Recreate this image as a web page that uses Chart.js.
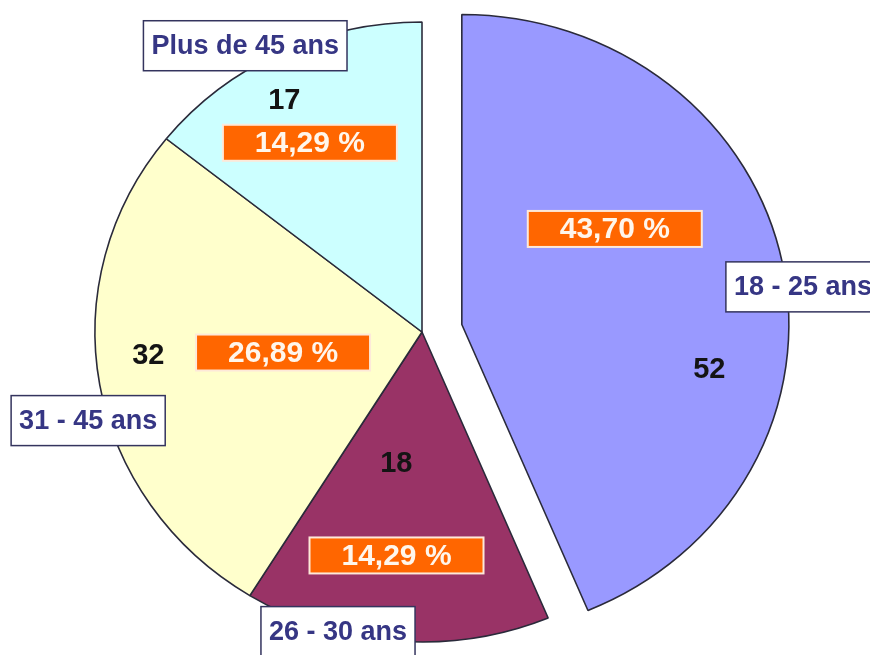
<!DOCTYPE html>
<html>
<head>
<meta charset="utf-8">
<script src="https://cdn.jsdelivr.net/npm/chart.js"></script>
<style>
  body {
    margin: 0;
    background-color: #ffffff;
  }
  #wrap {
    width: 870px;
    height: 655px;
  }
</style>
</head>
<body>
<div id="wrap">
  <canvas id="myChart" width="870" height="655"></canvas>
</div>

<script>
  // data
  const labels = ['18 - 25 ans', '26 - 30 ans', '31 - 45 ans', 'Plus de 45 ans'];
  const counts = [52, 18, 32, 17];
  const percentText = ['43,70 %', '14,29 %', '26,89 %', '14,29 %'];

  const colors = ['#9999ff', '#993366', '#ffffcc', '#ccffff'];

  // look & placement
  const FONT = '"Liberation Sans", Arial, sans-serif';
  const SX = 1.055;              // the pie is a bit wider than tall
  const EXPLODE = [38.5, 0, 0, 0]; // pulled-out first slice
  // [fraction along slice, fraction of radius]
  const valuePos = [[0.64, 0.77], [0.61, 0.43], [0.55, 0.84], [0.43, 0.86]];
  const pctPos = [[0.36, 0.56], [0.53, 0.725], [0.51, 0.43], [0.43, 0.70]];
  const catPos = [[0.53, 1.05], [0.69, 1.0], [0.44, 1.06], [0.41, 1.07]];

  function spot(arc, i, t, rf) {
    const a = arc.startAngle + (arc.endAngle - arc.startAngle) * t;
    const r = arc.outerRadius * rf;
    let x = Math.cos(a) * r;
    let y = Math.sin(a) * r;
    if (EXPLODE[i]) {
      const mid = (arc.startAngle + arc.endAngle) / 2;
      x += Math.cos(mid) * EXPLODE[i];
      y += Math.sin(mid) * EXPLODE[i];
    }
    return { x: arc.x + x * SX, y: arc.y + y };
  }

  const piePlugin = {
    id: 'piePlugin',
    beforeDatasetDraw(chart, args) {
      const ctx = chart.ctx;
      const meta = args.meta;
      const first = meta.data[0];
      ctx.save();
      ctx.translate(first.x, first.y);
      ctx.scale(SX, 1);
      ctx.translate(-first.x, -first.y);
      meta.data.forEach(function (arc, i) {
        ctx.save();
        if (EXPLODE[i]) {
          const mid = (arc.startAngle + arc.endAngle) / 2;
          ctx.translate(Math.cos(mid) * EXPLODE[i], Math.sin(mid) * EXPLODE[i]);
        }
        arc.draw(ctx);
        ctx.restore();
      });
      ctx.restore();
      return false;
    },
    afterDatasetsDraw(chart) {
      const ctx = chart.ctx;
      const meta = chart.getDatasetMeta(0);
      ctx.save();
      ctx.textAlign = 'center';
      ctx.textBaseline = 'middle';
      meta.data.forEach(function (arc, i) {
        // value
        let p = spot(arc, i, valuePos[i][0], valuePos[i][1]);
        ctx.font = 'bold 29px ' + FONT;
        ctx.fillStyle = '#141414';
        ctx.fillText(String(counts[i]), p.x, p.y + 1);

        // percent box
        p = spot(arc, i, pctPos[i][0], pctPos[i][1]);
        const bw = 174, bh = 36;
        ctx.fillStyle = '#ff6600';
        ctx.fillRect(p.x - bw / 2, p.y - bh / 2, bw, bh);
        ctx.strokeStyle = '#fde9d9';
        ctx.lineWidth = 2;
        ctx.strokeRect(p.x - bw / 2, p.y - bh / 2, bw, bh);
        ctx.font = 'bold 30px ' + FONT;
        ctx.fillStyle = '#fff6ec';
        ctx.fillText(percentText[i], p.x, p.y + 1);

        // category box
        p = spot(arc, i, catPos[i][0], catPos[i][1]);
        ctx.font = 'bold 27px ' + FONT;
        const tw = ctx.measureText(labels[i]).width + 16;
        const th = 50;
        ctx.fillStyle = '#ffffff';
        ctx.fillRect(p.x - tw / 2, p.y - th / 2, tw, th);
        ctx.strokeStyle = '#34345e';
        ctx.lineWidth = 1.5;
        ctx.strokeRect(p.x - tw / 2, p.y - th / 2, tw, th);
        ctx.fillStyle = '#363684';
        ctx.fillText(labels[i], p.x, p.y + 1);
      });
      ctx.restore();
    }
  };

  const data = {
    labels: labels,
    datasets: [{
      data: counts,
      backgroundColor: colors,
      borderColor: '#2a2a3a',
      borderWidth: 1.5
    }]
  };

  const config = {
    type: 'pie',
    data: data,
    options: {
      responsive: false,
      animation: false,
      radius: 310,
      layout: {
        padding: { left: 0, right: 26, top: 9, bottom: 0 }
      },
      plugins: {
        legend: { display: false },
        tooltip: { enabled: false }
      }
    },
    plugins: [piePlugin]
  };

  const myChart = new Chart(document.getElementById('myChart'), config);
</script>
</body>
</html>
